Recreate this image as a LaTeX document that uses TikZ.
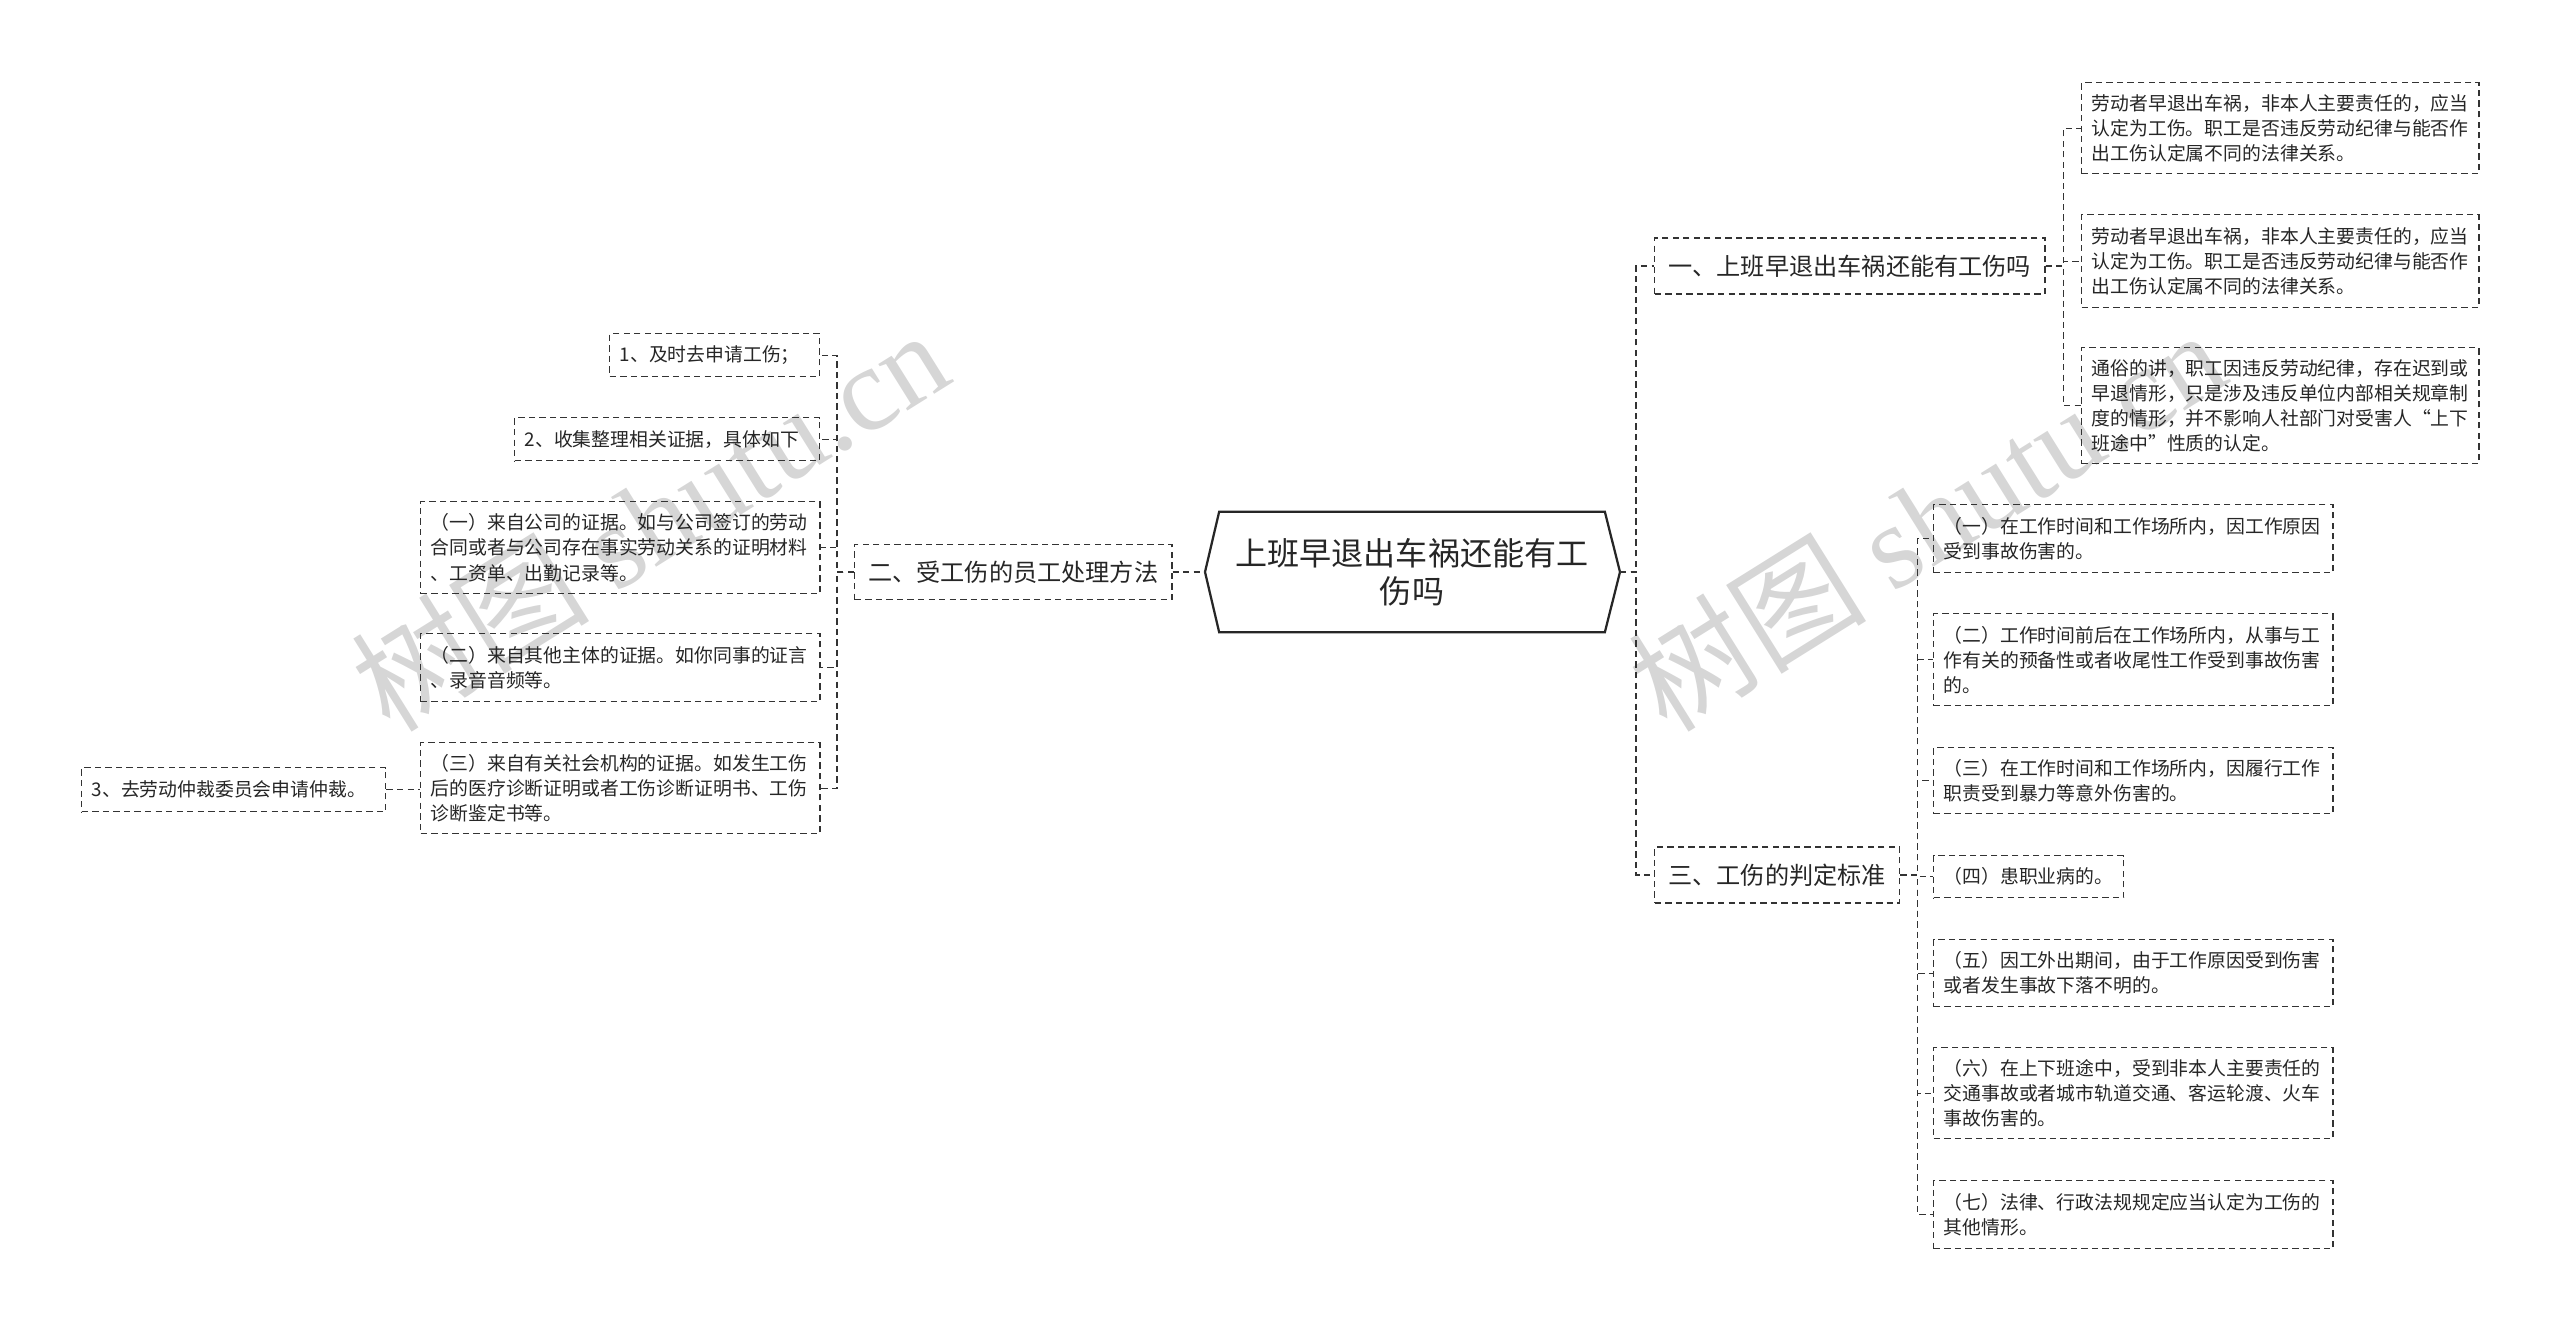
\documentclass[tikz,border=0pt]{standalone}
\usepackage{fontspec}
\setmainfont{Noto Sans CJK SC}
\newfontfamily\wmlatin{Liberation Serif}
\begin{document}
\begin{tikzpicture}[x=0.025cm, y=-0.025cm,
                    root/.style={minimum width=9.625cm, minimum height=3cm, align=center, text=black!85,
                                 font=\fontsize{22.8pt}{27pt}\selectfont},
                    topic/.style={draw=black!80, dash pattern=on 4.5pt off 3pt, line width=1pt, anchor=west,
                                  minimum height=1.4cm, text=black!85, font=\fontsize{17.2pt}{20pt}\selectfont},
                    leaf/.style={draw=black!80, dash pattern=on 4.5pt off 3pt, line width=1pt, anchor=north west,
                                 align=left, inner xsep=0.25cm, inner ysep=0pt, text=black!85,
                                 font=\fontsize{13.4pt}{17.8pt}\selectfont},
                    link/.style={draw=black!80, dash pattern=on 4.5pt off 3pt, line width=1pt},
                    wmark/.style={text=black!16, rotate=32, font=\fontsize{85pt}{85pt}\selectfont}
                ]
                \useasboundingbox (0,0) rectangle (2560,1329);

                % Watermarks
                \node[wmark] (W1) at (649,519) {树图 {\wmlatin shutu.cn}};
                \node[wmark] (W2) at (1926,519) {树图 {\wmlatin shutu.cn}};

                % Root
                \node[root] (root) at (1412,572) {上班早退出车祸还能有工\\伤吗};
                \coordinate (rootL) at (1205,572);
                \coordinate (rootR) at (1620,572);
                \draw[line width=1.6pt, black!85] (rootL) -- (root.north west) -- (root.north east)
                    -- (rootR) -- (root.south east) -- (root.south west) -- cycle;

                % Topics
                \node[topic, minimum width=9.75cm] (A1) at (1654,266) {一、上班早退出车祸还能有工伤吗};
                \node[topic, minimum width=7.925cm, minimum height=1.375cm] (A2) at (854,572) {二、受工伤的员工处理方法};
                \node[topic, minimum width=6.125cm] (A3) at (1654,875) {三、工伤的判定标准};

                % Leaves of A1
                \node[leaf, text width=9.425cm, minimum height=2.275cm] (R1) at (2081,82)
                    {劳动者早退出车祸，非本人主要责任的，应当\\认定为工伤。职工是否违反劳动纪律与能否作\\出工伤认定属不同的法律关系。};
                \node[leaf, text width=9.425cm, minimum height=2.325cm] (R2) at (2081,214)
                    {劳动者早退出车祸，非本人主要责任的，应当\\认定为工伤。职工是否违反劳动纪律与能否作\\出工伤认定属不同的法律关系。};
                \node[leaf, text width=9.425cm, minimum height=2.9cm] (R3) at (2081,347)
                    {通俗的讲，职工因违反劳动纪律，存在迟到或\\早退情形，只是涉及违反单位内部相关规章制\\度的情形，并不影响人社部门对受害人“上下\\班途中”性质的认定。};

                % Leaves of A3
                \node[leaf, text width=9.475cm, minimum height=1.7cm] (S1) at (1933,504)
                    {（一）在工作时间和工作场所内，因工作原因\\受到事故伤害的。};
                \node[leaf, text width=9.475cm, minimum height=2.3cm] (S2) at (1933,613)
                    {（二）工作时间前后在工作场所内，从事与工\\作有关的预备性或者收尾性工作受到事故伤害\\的。};
                \node[leaf, text width=9.475cm, minimum height=1.65cm] (S3) at (1933,747)
                    {（三）在工作时间和工作场所内，因履行工作\\职责受到暴力等意外伤害的。};
                \node[leaf, text width=4.25cm, minimum height=1.05cm] (S4) at (1933,855)
                    {（四）患职业病的。};
                \node[leaf, text width=9.475cm, minimum height=1.675cm] (S5) at (1933,939)
                    {（五）因工外出期间，由于工作原因受到伤害\\或者发生事故下落不明的。};
                \node[leaf, text width=9.475cm, minimum height=2.275cm] (S6) at (1933,1047)
                    {（六）在上下班途中，受到非本人主要责任的\\交通事故或者城市轨道交通、客运轮渡、火车\\事故伤害的。};
                \node[leaf, text width=9.475cm, minimum height=1.7cm] (S7) at (1933,1180)
                    {（七）法律、行政法规规定应当认定为工伤的\\其他情形。};

                % Leaves of A2
                \node[leaf, text width=4.75cm, minimum height=1.075cm] (L1) at (609,333) {1、及时去申请工伤；};
                \node[leaf, text width=7.125cm, minimum height=1.075cm] (L2) at (514,417) {2、收集整理相关证据，具体如下};
                \node[leaf, text width=9.475cm, minimum height=2.3cm] (L3) at (420,501)
                    {（一）来自公司的证据。如与公司签订的劳动\\合同或者与公司存在事实劳动关系的证明材料\\、工资单、出勤记录等。};
                \node[leaf, text width=9.475cm, minimum height=1.7cm] (L4) at (420,633)
                    {（二）来自其他主体的证据。如你同事的证言\\、录音音频等。};
                \node[leaf, text width=9.475cm, minimum height=2.275cm] (L5) at (420,742)
                    {（三）来自有关社会机构的证据。如发生工伤\\后的医疗诊断证明或者工伤诊断证明书、工伤\\诊断鉴定书等。};
                \node[leaf, text width=7.1cm, minimum height=1.1cm] (L6) at (81,767) {3、去劳动仲裁委员会申请仲裁。};

                % Connections
                \draw[link] (A2.east) -- (rootL);
                \foreach \t in {A1,A3}
                    \draw[link] (rootR) -- ++(16,0) |- (\t.west);
                \foreach \l in {R1,R2,R3}
                    \draw[link] (A1.east) -- ++(18,0) |- (\l.west);
                \foreach \l in {S1,S2,S3,S4,S5,S6,S7}
                    \draw[link] (A3.east) -- ++(17,0) |- (\l.west);
                \foreach \l in {L1,L2,L3,L4,L5}
                    \draw[link] (A2.west) -- ++(-17,0) |- (\l.east);
                \draw[link] (L6.east) -- (L6.east -| L5.west);
            \end{tikzpicture}
\end{document}
